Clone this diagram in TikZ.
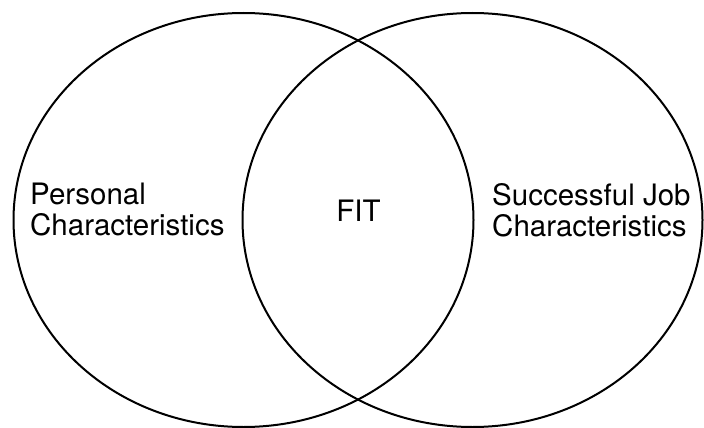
\documentclass[tikz,border=0pt]{standalone}
\usepackage{fontspec}
\setmainfont{TeX Gyre Heros}
\begin{document}
\begin{tikzpicture}[x=1pt,y=-1pt,
  venn/.style={draw=black,line width=2pt},
  lbl/.style={inner sep=0pt,align=left,font=\fontsize{29.5}{31}\selectfont}]
\useasboundingbox (0,0) rectangle (704,428);
\draw[venn] (243.5,220) ellipse [x radius=230pt,y radius=207pt];
\draw[venn] (472.5,220) ellipse [x radius=230pt,y radius=207pt];
\node[lbl,anchor=west] (pers) at (30,210) {Personal\\Characteristics};
\node[lbl,anchor=west] (job) at (492,210) {Successful Job\\Characteristics};
\node[lbl] (fit) at (358.5,211) {FIT};
\end{tikzpicture}
\end{document}
